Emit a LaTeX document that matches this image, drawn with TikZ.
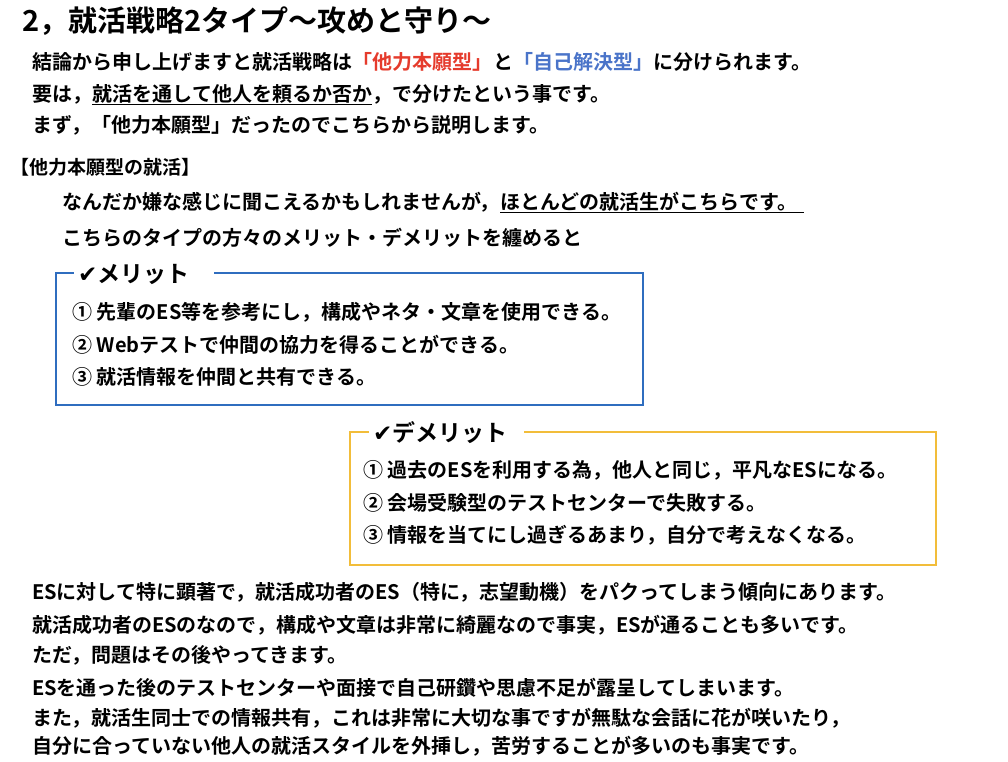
\documentclass[tikz,border=0pt]{standalone}
\usepackage{fontspec}
\usetikzlibrary{positioning}
\setmainfont{Noto Sans CJK JP}[BoldFont={* Bold}]
\newfontfamily\symfont{DejaVu Sans}
\definecolor{tred}{HTML}{E53B2C}
\definecolor{tblue}{HTML}{4A74C9}
\definecolor{meritblue}{HTML}{2F6DBF}
\definecolor{demerityellow}{HTML}{F2BD3A}
\tikzset{
  txt/.style={anchor=west, inner sep=0pt, text height=17.6pt, text depth=2.4pt,
              font=\bfseries\fontsize{20}{23}\selectfont},
  smalltxt/.style={txt, text height=16.7pt, text depth=2.3pt,
              font=\bfseries\fontsize{19}{22}\selectfont},
  headline/.style={txt, text height=25.5pt, text depth=3.5pt,
              font=\bfseries\fontsize{29}{33}\selectfont},
  boxhead/.style={txt, text height=20.2pt, text depth=2.8pt,
              font=\bfseries\fontsize{23}{26}\selectfont},
  uline/.style={line width=1.2pt},
  frame/.style={line width=2.8pt, line cap=rect},
}
\begin{document}
\begin{tikzpicture}[x=1pt, y=-1pt]
      \useasboundingbox (0, 0) rectangle (1008, 761);
      % heading and introduction
      \node (title) [headline] at (22, 20) {2，就活戦略2タイプ〜攻めと守り〜};
      \node (l1a) [txt] at (32, 62) {結論から申し上げますと就活戦略は};
      \node (l1b) [txt, right=0pt of l1a, text=tred] {「他力本願型」};
      \node (l1c) [txt, right=0pt of l1b] {と};
      \node (l1d) [txt, right=0pt of l1c, text=tblue] {「自己解決型」};
      \node (l1e) [txt, right=0pt of l1d] {に分けられます。};
      \node (l2a) [txt] at (32, 94) {要は，};
      \node (l2b) [txt, right=0pt of l2a] {就活を通して他人を頼るか否か};
      \node (l2c) [txt, right=0pt of l2b] {，で分けたという事です。};
      \node (l3) [txt] at (32, 125) {まず，「他力本願型」だったのでこちらから説明します。};
      \draw[uline] (l2b.south west) -- (l2b.south east);
      % other-reliant type
      \node (sect) [smalltxt] at (10, 167) {【他力本願型の就活】};
      \node (l5a) [txt] at (62, 202) {なんだか嫌な感じに聞こえるかもしれませんが，};
      \node (l5b) [txt, right=0pt of l5a] {ほとんどの就活生がこちらです。};
      \node (l6) [txt] at (62, 238) {こちらのタイプの方々のメリット・デメリットを纏めると};
      \coordinate (l5end) at ([xshift=7pt]l5b.south east);
      \draw[uline] (l5b.south west) -- (l5end);
      % merit box
      \draw[frame, meritblue] (73, 273) -- (56, 273) -- (56, 405)
            -- (643, 405) -- (643, 273) -- (215, 273);
      \node (merit) [boxhead] at (78, 274) {{\symfont ✔}メリット};
      \node (m1) [txt] at (72, 312) {① 先輩のES等を参考にし，構成やネタ・文章を使用できる。};
      \node (m2) [txt] at (72, 345) {② Webテストで仲間の協力を得ることができる。};
      \node (m3) [txt] at (72, 377) {③ 就活情報を仲間と共有できる。};
      % demerit box
      \draw[frame, demerityellow] (368, 432) -- (350, 432) -- (350, 565)
            -- (936, 565) -- (936, 432) -- (525, 432);
      \node (demerit) [boxhead] at (373, 433) {{\symfont ✔}デメリット};
      \node (d1) [txt] at (363, 470) {① 過去のESを利用する為，他人と同じ，平凡なESになる。};
      \node (d2) [txt] at (363, 503) {② 会場受験型のテストセンターで失敗する。};
      \node (d3) [txt] at (363, 535) {③ 情報を当てにし過ぎるあまり，自分で考えなくなる。};
      % closing paragraph
      \node (p1) [txt] at (32, 592) {ESに対して特に顕著で，就活成功者のES（特に，志望動機）をパクってしまう傾向にあります。};
      \node (p2) [txt] at (32, 625) {就活成功者のESのなので，構成や文章は非常に綺麗なので事実，ESが通ることも多いです。};
      \node (p3) [txt] at (32, 655) {ただ，問題はその後やってきます。};
      \node (p4) [txt] at (32, 688) {ESを通った後のテストセンターや面接で自己研鑽や思慮不足が露呈してしまいます。};
      \node (p5) [txt] at (32, 718) {また，就活生同士での情報共有，これは非常に大切な事ですが無駄な会話に花が咲いたり，};
      \node (p6) [txt] at (32, 746) {自分に合っていない他人の就活スタイルを外挿し，苦労することが多いのも事実です。};
\end{tikzpicture}
\end{document}
